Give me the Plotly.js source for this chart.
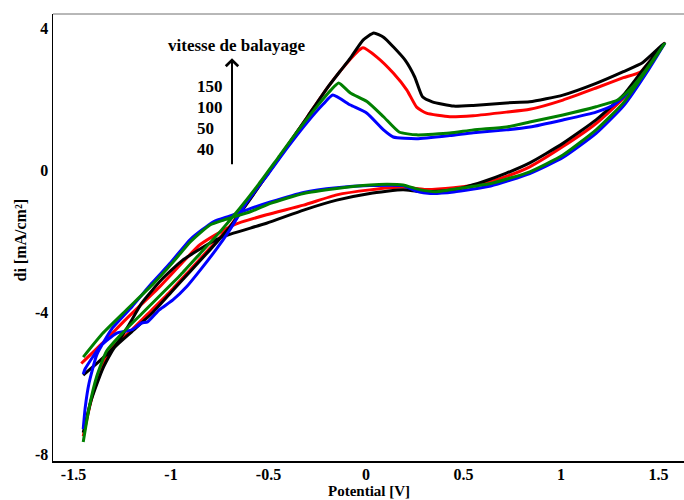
<!DOCTYPE html>
<html>
<head>
<meta charset="utf-8">
<script src="https://cdn.plot.ly/plotly-3.0.1.min.js"></script>
<style>html,body{margin:0;padding:0;background:#fff;}#chart{width:684px;height:500px;}</style>
</head>
<body>
<div id="chart"></div>
<script>
// ---- data ----
const scanRates = ['150', '100', '50', '40'];
const legendTitle = 'vitesse de balayage';
const xTickVals = [-1.5, -1, -0.5, 0, 0.5, 1, 1.5];
const xTickText = ['-1.5', '-1', '-0.5', '0', '0.5', '1', '1.5'];
const yTickVals = [4, 0, -4, -8];
const yTickText = ['4', '0', '-4', '-8'];

// 150 (black)
const e150Fwd = [-1.45,-1.41,-1.35,-1.29,-1.2,-1.1,-1.0,-0.9,-0.8,-0.7,-0.6,-0.49,-0.4,-0.3,-0.2,-0.13,-0.08,-0.015,0.04,0.09,0.14,0.2,0.25,0.29,0.34,0.45,0.55,0.72,0.84,1.01,1.18,1.32,1.42,1.53];
const i150Fwd = [-7.4,-6.5,-5.6,-5.0,-4.55,-4.05,-3.45,-2.85,-2.25,-1.62,-0.87,0,0.7,1.5,2.3,2.8,3.15,3.66,3.86,3.74,3.47,3.1,2.62,2.06,1.92,1.80,1.82,1.89,1.92,2.11,2.44,2.77,3.03,3.57];
const e150Rev = [1.42,1.32,1.18,1.01,0.84,0.72,0.6,0.45,0.28,0.19,0.02,-0.15,-0.32,-0.51,-0.68,-0.77,-0.94,-1.05,-1.15,-1.22,-1.29,-1.37,-1.45];
const i150Rev = [2.82,2.11,1.41,0.75,0.2,-0.09,-0.33,-0.56,-0.61,-0.56,-0.66,-0.85,-1.13,-1.5,-1.78,-1.97,-2.54,-3.1,-3.75,-4.4,-4.98,-5.4,-5.78];

// 100 (red)
const e100Fwd = [-1.45,-1.41,-1.36,-1.3,-1.2,-1.1,-1.0,-0.9,-0.8,-0.7,-0.6,-0.49,-0.4,-0.3,-0.2,-0.13,-0.05,-0.015,0.056,0.14,0.21,0.26,0.31,0.43,0.55,0.72,0.84,1.01,1.18,1.32,1.41,1.53];
const i100Fwd = [-7.5,-6.5,-5.6,-5.0,-4.5,-3.95,-3.4,-2.8,-2.2,-1.6,-0.85,0,0.7,1.5,2.3,2.8,3.3,3.44,3.18,2.73,2.25,1.77,1.6,1.5,1.53,1.63,1.71,1.97,2.31,2.6,2.77,3.57];
const e100Rev = [1.42,1.32,1.18,1.01,0.84,0.72,0.6,0.45,0.3,0.19,0.02,-0.15,-0.32,-0.51,-0.68,-0.85,-1.06,-1.23,-1.35,-1.46];
const i100Rev = [2.75,2.02,1.31,0.66,0.09,-0.18,-0.38,-0.5,-0.55,-0.48,-0.56,-0.7,-0.99,-1.26,-1.55,-2.1,-3.3,-4.2,-4.87,-5.45];

// 50 (green)
const e50Fwd = [-1.45,-1.42,-1.38,-1.33,-1.25,-1.15,-1.05,-0.95,-0.85,-0.75,-0.65,-0.55,-0.45,-0.35,-0.25,-0.18,-0.14,-0.08,0.005,0.09,0.17,0.26,0.43,0.55,0.72,0.84,1.01,1.18,1.29,1.36,1.44,1.53];
const i50Fwd = [-7.66,-6.7,-5.8,-5.1,-4.6,-4.05,-3.5,-2.95,-2.35,-1.75,-1.1,-0.4,0.35,1.1,1.8,2.25,2.45,2.17,1.93,1.5,1.07,0.99,1.04,1.13,1.21,1.35,1.55,1.78,1.97,2.3,2.85,3.55];
const e50Rev = [1.44,1.32,1.18,1.01,0.84,0.64,0.5,0.36,0.28,0.19,0.11,0.02,-0.15,-0.32,-0.49,-0.59,-0.73,-0.8,-0.9,-0.99,-1.09,-1.23,-1.35,-1.45];
const i50Rev = [2.82,1.89,1.13,0.42,-0.05,-0.38,-0.5,-0.61,-0.56,-0.42,-0.4,-0.42,-0.52,-0.66,-0.94,-1.17,-1.41,-1.55,-2.02,-2.6,-3.2,-3.95,-4.6,-5.27];

// 40 (blue)
const e40Fwd = [-1.45,-1.44,-1.36,-1.28,-1.2,-1.15,-1.12,-1.06,-0.99,-0.92,-0.85,-0.77,-0.7,-0.61,-0.5,-0.4,-0.3,-0.22,-0.17,-0.08,0.005,0.09,0.14,0.26,0.43,0.55,0.72,0.84,1.01,1.18,1.27,1.36,1.44,1.53];
const i40Fwd = [-5.75,-5.6,-4.95,-4.6,-4.5,-4.31,-4.28,-3.94,-3.66,-3.29,-2.82,-2.25,-1.7,-0.9,-0.1,0.65,1.35,1.85,2.11,1.83,1.6,1.13,0.93,0.88,0.97,1.05,1.13,1.21,1.41,1.63,1.83,2.25,2.8,3.55];
const e40Rev = [1.44,1.32,1.18,1.01,0.84,0.64,0.45,0.33,0.26,0.19,0.02,-0.15,-0.32,-0.49,-0.6,-0.7,-0.78,-0.9,-1.0,-1.1,-1.2,-1.3,-1.38,-1.42,-1.44,-1.45];
const i40Rev = [2.75,1.8,1.03,0.35,-0.1,-0.45,-0.62,-0.66,-0.6,-0.44,-0.44,-0.5,-0.63,-0.9,-1.1,-1.3,-1.45,-1.95,-2.6,-3.2,-3.85,-4.45,-5.2,-6.0,-6.7,-7.3];

// ---- build ----
const serif = 'Liberation Serif, Times New Roman, serif';
function curve(ef, ifw, er, ir, color) {
  return {
    x: ef.concat(er), y: ifw.concat(ir), type: 'scatter', mode: 'lines',
    line: {color: color, width: 3, shape: 'spline', smoothing: 0.5},
    hoverinfo: 'skip', showlegend: false
  };
}
const traces = [
  curve(e100Fwd, i100Fwd, e100Rev, i100Rev, '#ff0000'),
  curve(e150Fwd, i150Fwd, e150Rev, i150Rev, '#000000'),
  curve(e40Fwd, i40Fwd, e40Rev, i40Rev, '#0000ff'),
  curve(e50Fwd, i50Fwd, e50Rev, i50Rev, '#008000')
];

const tickFont = {family: serif, size: 16, color: '#000', weight: 'bold'};
const annFont = {family: serif, size: 17, color: '#000', weight: 'bold'};
const rateY = [2.34, 1.75, 1.17, 0.58];

const annotations = [
  {x: -0.662, y: 3.5, xref: 'x', yref: 'y', text: legendTitle, showarrow: false, font: annFont, xanchor: 'center', yanchor: 'middle'},
  {x: -0.687, y: 3.15, xref: 'x', yref: 'y', ax: -0.687, ay: 0.12, axref: 'x', ayref: 'y', text: '', showarrow: true, arrowhead: 4, arrowsize: 1.2, arrowwidth: 2, arrowcolor: '#000'},
  {x: 0.5, y: 0, xref: 'paper', yref: 'paper', yshift: -30, text: 'Potential [V]', showarrow: false, font: {family: serif, size: 15, color: '#000', weight: 'bold'}, xanchor: 'center', yanchor: 'middle'},
  {x: 0, y: 0.5, xref: 'paper', yref: 'paper', xshift: -33, yshift: -3, text: 'di [mA/cm\u00b2]', textangle: -90, showarrow: false, font: {family: serif, size: 16, color: '#000', weight: 'bold'}, xanchor: 'center', yanchor: 'middle'}
];
scanRates.forEach(function (r, k) {
  annotations.push({x: -0.875, y: rateY[k], xref: 'x', yref: 'y', text: r, showarrow: false, font: annFont, xanchor: 'left', yanchor: 'middle'});
});

const layout = {
  width: 684, height: 500,
  margin: {l: 53, r: 0, t: 14, b: 39},
  paper_bgcolor: '#fff', plot_bgcolor: '#fff',
  xaxis: {range: [-1.605, 1.631], tickvals: xTickVals, ticktext: xTickText, showgrid: false, zeroline: false,
          showline: true, linecolor: '#000', linewidth: 1.5, ticks: '', ticklen: 0, ticklabelstandoff: -2, tickfont: tickFont},
  yaxis: {range: [-8.197, 4.394], tickvals: yTickVals, ticktext: yTickText, showgrid: false, zeroline: false,
          showline: true, linecolor: '#000', linewidth: 1.5, ticks: '', tickfont: tickFont},
  shapes: [{type: 'line', xref: 'paper', yref: 'paper', x0: 0, x1: 1, y0: 1, y1: 1, line: {color: '#707070', width: 1}}],
  annotations: annotations
};
Plotly.newPlot('chart', traces, layout, {staticPlot: true, displayModeBar: false});
</script>
</body>
</html>
